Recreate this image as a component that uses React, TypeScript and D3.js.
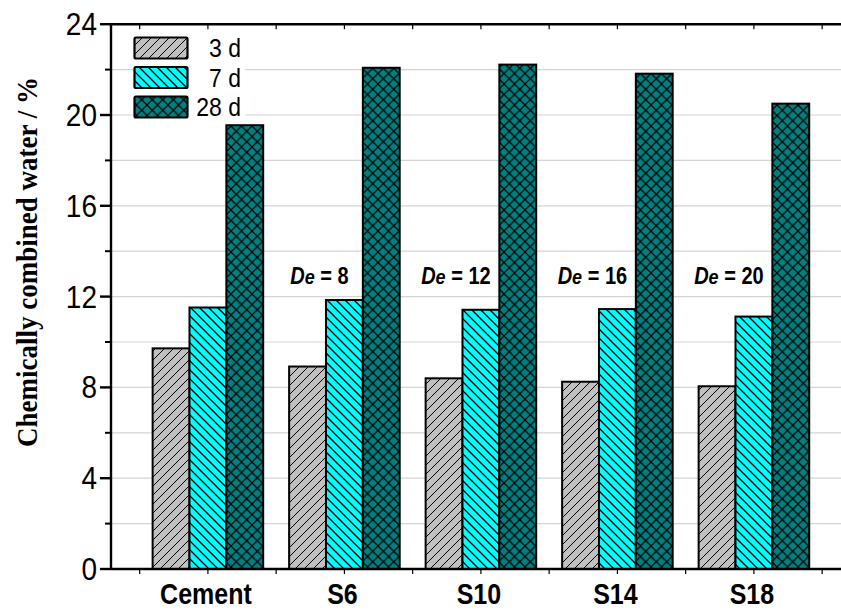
import React from "react";
import * as d3 from "d3";

const categories = ["Cement", "S6", "S10", "S14", "S18"];
const seriesNames = ["3 d", "7 d", "28 d"];
const age3d = [9.72, 8.92, 8.4, 8.25, 8.05];
const age7d = [11.52, 11.85, 11.42, 11.45, 11.12];
const age28d = [19.55, 22.08, 22.22, 21.82, 20.5];
const deLabels = ["", "8", "12", "16", "20"];
const yTicks = [0, 4, 8, 12, 16, 20, 24];
const yMinorTicks = [2, 6, 10, 14, 18, 22];

const W = 841;
const H = 612;
const FONT = "'Liberation Sans', Arial, sans-serif";
const STRETCH = 1.15;

export default function App() {
  const x = d3.scaleLinear().domain([-0.71, 4.71]).range([111, 111 + 5.42 * 136.5]);
  const y = d3.scaleLinear().domain([0, 24]).range([569, 24.2]);
  const barW = x(0.27) - x(0);
  const series = [age3d, age7d, age28d];
  const fills = ["url(#hatch3)", "url(#hatch7)", "url(#hatch28)"];
  const xTicks = d3.range(-0.5, 4.51, 0.5);
  const gridVals = d3.range(2, 23, 2);
  const x0 = x(-0.71);
  const at = (px: number, py: number) => `translate(${px},${py}) scale(1,${STRETCH})`;

  return (
    <svg
      width={W}
      height={H}
      style={{ position: "absolute", left: 0, top: 0, background: "#fff" }}
    >
      <defs>
        <pattern id="hatch3" patternUnits="userSpaceOnUse" width="9" height="9">
          <rect width="9" height="9" fill="#c0c0c0" />
          <path d="M-1,10 L10,-1 M-3,3 L3,-3 M6,12 L12,6" stroke="#000" strokeWidth="1" />
        </pattern>
        <pattern id="hatch7" patternUnits="userSpaceOnUse" width="9" height="9">
          <rect width="9" height="9" fill="#00ffff" />
          <path d="M-1,-1 L10,10 M-3,6 L3,12 M6,-3 L12,3" stroke="#000" strokeWidth="1.3" />
        </pattern>
        <pattern id="hatch28" patternUnits="userSpaceOnUse" width="10.5" height="10.5">
          <rect width="10.5" height="10.5" fill="#008080" />
          <path
            d="M-1,-1 L11.5,11.5 M-1,11.5 L11.5,-1"
            stroke="#000"
            strokeWidth="1.2"
          />
        </pattern>
      </defs>

      {/* horizontal grid */}
      {gridVals.map((v) => (
        <line key={v} x1={x0} x2={W} y1={y(v)} y2={y(v)} stroke="#d4d4d4" strokeWidth={1.2} />
      ))}

      {/* legend */}
      <g>
        <rect x={133} y={30} width={112} height={92} fill="#fff" />
        {seriesNames.map((name, i) => {
          const cy = 48 + i * 29.5;
          return (
            <g key={name}>
              <rect
                x={134.5}
                y={cy - 10.5}
                width={53}
                height={21}
                rx={1.5}
                fill={fills[i]}
                stroke="#000"
                strokeWidth={2.2}
              />
              <text
                transform={at(241, cy + 9)}
                textAnchor="end"
                fontFamily={FONT}
                fontSize={23}
                fill="#000"
              >
                {name}
              </text>
            </g>
          );
        })}
      </g>

      {/* bars */}
      {series.map((vals, s) =>
        vals.map((v, i) => (
          <rect
            key={`${s}-${i}`}
            x={x(i) + (s - 1.5) * barW}
            y={y(v)}
            width={barW}
            height={y(0) - y(v)}
            fill={fills[s]}
            stroke="#000"
            strokeWidth={2}
          />
        ))
      )}

      {/* De annotations */}
      {deLabels.map((d, i) =>
        d ? (
          <text
            key={i}
            transform={at(x(i) - 25, 284)}
            textAnchor="middle"
            fontFamily={FONT}
            fontSize={20}
            fontWeight="bold"
            fill="#000"
          >
            <tspan fontStyle="italic">D</tspan>
            <tspan fontStyle="italic" fontSize={18}>e</tspan>
            <tspan>{` = ${d}`}</tspan>
          </text>
        ) : null
      )}

      {/* axes */}
      <line x1={x0} x2={x0} y1={y(24)} y2={y(0)} stroke="#000" strokeWidth={2.4} />
      <line x1={x0} x2={W} y1={y(0)} y2={y(0)} stroke="#000" strokeWidth={2.4} />
      <line x1={x0} x2={W} y1={y(24)} y2={y(24)} stroke="#000" strokeWidth={2.4} />

      {yTicks.map((v) => (
        <g key={v}>
          <line x1={x0 - 11} x2={x0} y1={y(v)} y2={y(v)} stroke="#000" strokeWidth={2.4} />
          <text
            transform={at(97, y(v) + 11)}
            textAnchor="end"
            fontFamily={FONT}
            fontSize={28}
            fill="#000"
          >
            {v}
          </text>
        </g>
      ))}
      {yMinorTicks.map((v) => (
        <line key={v} x1={x0 - 6} x2={x0} y1={y(v)} y2={y(v)} stroke="#000" strokeWidth={2} />
      ))}

      {xTicks.map((t) => (
        <g key={t}>
          <line x1={x(t)} x2={x(t)} y1={y(0)} y2={y(0) + 5} stroke="#000" strokeWidth={1.2} />
          <line x1={x(t)} x2={x(t)} y1={y(24)} y2={y(24) + 5} stroke="#000" strokeWidth={1.2} />
        </g>
      ))}

      {categories.map((c, i) => (
        <text
          key={c}
          transform={at(x(i) - 2, 604)}
          textAnchor="middle"
          fontFamily={FONT}
          fontSize={25}
          fontWeight="bold"
          fill="#000"
        >
          {c}
        </text>
      ))}

      <text
        transform={`translate(37,262) rotate(-90) scale(1,1.12)`}
        textAnchor="middle"
        fontFamily="'Liberation Serif', 'Times New Roman', serif"
        fontSize={27}
        fontWeight="bold"
        fill="#000"
      >
        Chemically combined water / %
      </text>
    </svg>
  );
}
